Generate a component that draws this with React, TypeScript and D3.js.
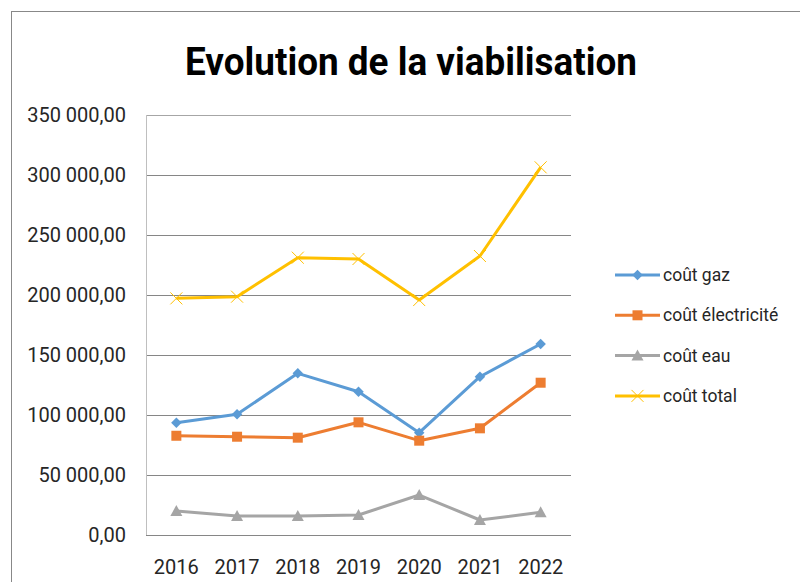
import React, { useEffect, useRef } from 'react'
import * as d3 from 'd3'

// values
const years = ['2016', '2017', '2018', '2019', '2020', '2021', '2022']
const coutGaz = [93600, 100600, 134700, 119400, 85300, 131900, 159200]
const coutElec = [82700, 81900, 81100, 93900, 78600, 88900, 126900]
const coutEau = [20000, 15800, 15800, 16700, 33300, 12500, 18900]
const coutTotal = [197200, 198600, 231100, 230000, 195800, 232500, 306400]
const yTicks = [0, 50000, 100000, 150000, 200000, 250000, 300000, 350000]

const seriesNames = ['coût gaz', 'coût électricité', 'coût eau', 'coût total']
const seriesColors = ['#5B9BD5', '#ED7D31', '#A5A5A5', '#FFC000']
const seriesMarkers = ['diamond', 'square', 'triangle', 'cross']

const W = 800
const H = 582
const FONT = 'Roboto, "Open Sans", sans-serif'

const fmt = (v: number) => {
  const s = d3.format(',.2f')(v)
  return s.replace(/,/g, ' ').replace('.', ',')
}

function drawMarker(g: d3.Selection<SVGGElement, unknown, null, undefined>, kind: string, x: number, y: number, color: string) {
  if (kind === 'diamond') {
    g.append('path')
      .attr('d', d3.symbol().type(d3.symbolDiamond2).size(70)())
      .attr('transform', `translate(${x},${y})`)
      .attr('fill', color)
  } else if (kind === 'square') {
    g.append('rect')
      .attr('x', x - 5).attr('y', y - 5)
      .attr('width', 10).attr('height', 10)
      .attr('fill', color)
  } else if (kind === 'triangle') {
    g.append('path')
      .attr('d', `M${x},${y - 6}L${x + 6},${y + 5}L${x - 6},${y + 5}Z`)
      .attr('fill', color)
  } else {
    g.append('path')
      .attr('d', `M${x - 6},${y - 6}L${x + 6},${y + 6}M${x - 6},${y + 6}L${x + 6},${y - 6}`)
      .attr('stroke', color)
      .attr('stroke-width', 1)
      .attr('fill', 'none')
  }
}

export default function App() {
  const ref = useRef<SVGSVGElement>(null)

  useEffect(() => {
    const svg = d3.select(ref.current)
    svg.selectAll('*').remove()

    const left = 146, right = 571, top = 115, bottom = 535

    const x = d3.scalePoint<string>().domain(years).range([left, right]).padding(0.5)
    const y = d3.scaleLinear().domain([0, 350000]).range([bottom, top])

    svg.append('rect')
      .attr('width', W).attr('height', H).attr('fill', 'white')

    // chart frame
    svg.append('rect')
      .attr('x', 11.5).attr('y', 11.5)
      .attr('width', W).attr('height', H)
      .attr('fill', 'none')
      .attr('stroke', '#888888')

    svg.append('text')
      .attr('x', 411).attr('y', 75)
      .attr('text-anchor', 'middle')
      .attr('textLength', 452)
      .attr('lengthAdjust', 'spacingAndGlyphs')
      .style('font-family', FONT)
      .style('font-weight', 'bold')
      .style('font-size', '39px')
      .attr('fill', '#000')
      .text('Evolution de la viabilisation')

    // gridlines
    svg.append('g')
      .selectAll('line')
      .data(yTicks.filter(d => d > 0))
      .enter().append('line')
      .attr('x1', left).attr('x2', right)
      .attr('y1', d => Math.round(y(d)) + 0.5)
      .attr('y2', d => Math.round(y(d)) + 0.5)
      .attr('stroke', d => (d === 350000 ? '#a6a6a6' : '#868686'))
      .attr('stroke-width', 1)

    // axes lines
    svg.append('line')
      .attr('x1', left + 0.5).attr('x2', left + 0.5)
      .attr('y1', top).attr('y2', bottom)
      .attr('stroke', '#bfbfbf')
    svg.append('line')
      .attr('x1', left).attr('x2', right)
      .attr('y1', Math.round(y(0)) + 0.5).attr('y2', Math.round(y(0)) + 0.5)
      .attr('stroke', '#868686')

    svg.append('g')
      .selectAll('text')
      .data(yTicks)
      .enter().append('text')
      .attr('x', 126)
      .attr('y', d => y(d) + 7)
      .attr('text-anchor', 'end')
      .style('font-family', FONT)
      .style('font-size', '20px')
      .attr('fill', '#262626')
      .text(d => fmt(d))

    svg.append('g')
      .selectAll('text')
      .data(years)
      .enter().append('text')
      .attr('x', d => x(d) as number)
      .attr('y', 574)
      .attr('text-anchor', 'middle')
      .style('font-family', FONT)
      .style('font-size', '20px')
      .attr('fill', '#262626')
      .text(d => d)

    const allSeries = [coutGaz, coutElec, coutEau, coutTotal]
    const line = d3.line<number>()
      .x((_, i) => x(years[i]) as number)
      .y(d => y(d))

    allSeries.forEach((vals, si) => {
      const g = svg.append('g')
      g.append('path')
        .datum(vals)
        .attr('d', line)
        .attr('fill', 'none')
        .attr('stroke', seriesColors[si])
        .attr('stroke-width', 3)
        .attr('stroke-linejoin', 'round')
      vals.forEach((v, i) => drawMarker(g, seriesMarkers[si], x(years[i]) as number, y(v), seriesColors[si]))
    })

    // legend
    const legend = svg.append('g')
    seriesNames.forEach((name, i) => {
      const cy = 275 + i * 40.3
      legend.append('line')
        .attr('x1', 615).attr('x2', 660)
        .attr('y1', cy).attr('y2', cy)
        .attr('stroke', seriesColors[i])
        .attr('stroke-width', 3)
      drawMarker(legend as any, seriesMarkers[i], 637.5, cy, seriesColors[i])
      legend.append('text')
        .attr('x', 663).attr('y', cy + 6)
        .style('font-family', FONT)
        .style('font-size', '17.5px')
        .attr('fill', '#262626')
        .text(name)
    })
  }, [])

  return (
    <svg ref={ref} width={W} height={H}
      style={{ position: 'absolute', left: 0, top: 0, display: 'block' }} />
  )
}
